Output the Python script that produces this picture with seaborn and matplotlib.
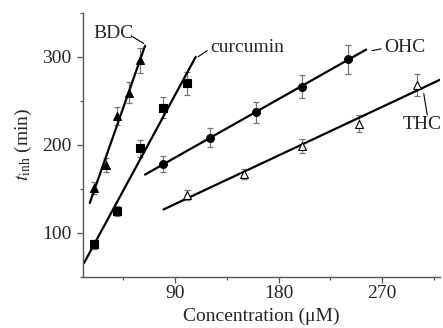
import numpy as np
import pandas as pd
import seaborn as sns
import matplotlib.pyplot as plt
from matplotlib.ticker import MultipleLocator

# ---- data ----
bdc_x = [20, 30, 40, 50, 60]
bdc_y = [151, 177, 233, 259, 296]
bdc_err = [7, 8, 10, 12, 14]

cur_x = [20, 40, 60, 80, 100]
cur_y = [87, 125, 196, 242, 270]
cur_err = [5, 6, 10, 12, 13]

ohc_x = [80, 120, 160, 200, 240]
ohc_y = [178, 208, 237, 266, 297]
ohc_err = [9, 11, 12, 13, 16]

thc_x = [100, 150, 200, 250, 300]
thc_y = [143, 167, 199, 224, 268]
thc_err = [6, 6, 8, 10, 13]

# x range over which each fitted line is drawn
bdc_fit = [16, 64]
cur_fit = [11, 108]
ohc_fit = [64, 256]
thc_fit = [80, 320]

series = [
    ("BDC", bdc_x, bdc_y, bdc_err, bdc_fit, "^", "black"),
    ("curcumin", cur_x, cur_y, cur_err, cur_fit, "s", "black"),
    ("OHC", ohc_x, ohc_y, ohc_err, ohc_fit, "o", "black"),
    ("THC", thc_x, thc_y, thc_err, thc_fit, "^", "white"),
]

# ---- style ----
sns.set_theme(style="ticks")
plt.rcParams["font.family"] = ["Liberation Serif", "DejaVu Serif"]
plt.rcParams["mathtext.fontset"] = "stix"
FS = 14

fig = plt.figure(figsize=(4.43, 3.28), dpi=100)
ax = fig.add_axes([0.187, 0.156, 0.806, 0.805])

for name, x, y, err, fit, marker, face in series:
    df = pd.DataFrame({"x": x, "y": y})
    slope, icpt = np.polyfit(x, y, 1)
    fx = np.array(fit, dtype=float)
    sns.lineplot(x=fx, y=slope * fx + icpt, ax=ax, color="black", lw=1.6, zorder=2)
    ax.errorbar(x, y, yerr=err, fmt="none", ecolor="#777777", elinewidth=0.9,
                capsize=2.5, capthick=0.9, zorder=1)
    sns.scatterplot(data=df, x="x", y="y", ax=ax, marker=marker, s=32,
                    facecolor=face, edgecolor="black", linewidth=0.8, zorder=3)

# labels with short leader lines
ax.text(19, 327, "BDC", fontsize=FS, va="center", ha="left")
ax.plot([53, 63], [323, 315], color="black", lw=0.8)
ax.text(121, 310, "curcumin", fontsize=FS, va="center", ha="left")
ax.plot([110, 118], [300, 307], color="black", lw=0.8)
ax.text(272, 310, "OHC", fontsize=FS, va="center", ha="left")
ax.plot([261, 269], [307, 309], color="black", lw=0.8)
ax.text(288, 223, "THC", fontsize=FS, va="center", ha="left")
ax.plot([309, 306], [234, 258], color="black", lw=0.8)

ax.set_xlim(10, 320)
ax.set_ylim(50, 350)
ax.xaxis.set_major_locator(MultipleLocator(90))
ax.xaxis.set_minor_locator(MultipleLocator(45))
ax.yaxis.set_major_locator(MultipleLocator(100))
ax.yaxis.set_minor_locator(MultipleLocator(50))

ax.set_xlabel("Concentration (μM)", fontsize=FS, labelpad=4)
ax.set_ylabel(r"$t_{\mathrm{inh}}$ (min)", fontsize=FS, labelpad=6)

sns.despine(ax=ax)
for sp in ("left", "bottom"):
    ax.spines[sp].set_color("#555555")
    ax.spines[sp].set_linewidth(1.0)
ax.tick_params(axis="both", which="major", length=4, width=0.9, color="#555555",
               labelsize=FS)
ax.tick_params(axis="y", which="major", pad=4)
ax.tick_params(axis="x", which="major", pad=2)
ax.tick_params(axis="both", which="minor", length=2.5, width=0.9, color="#555555")

fig.savefig("out.png", dpi=100)
plt.close(fig)
